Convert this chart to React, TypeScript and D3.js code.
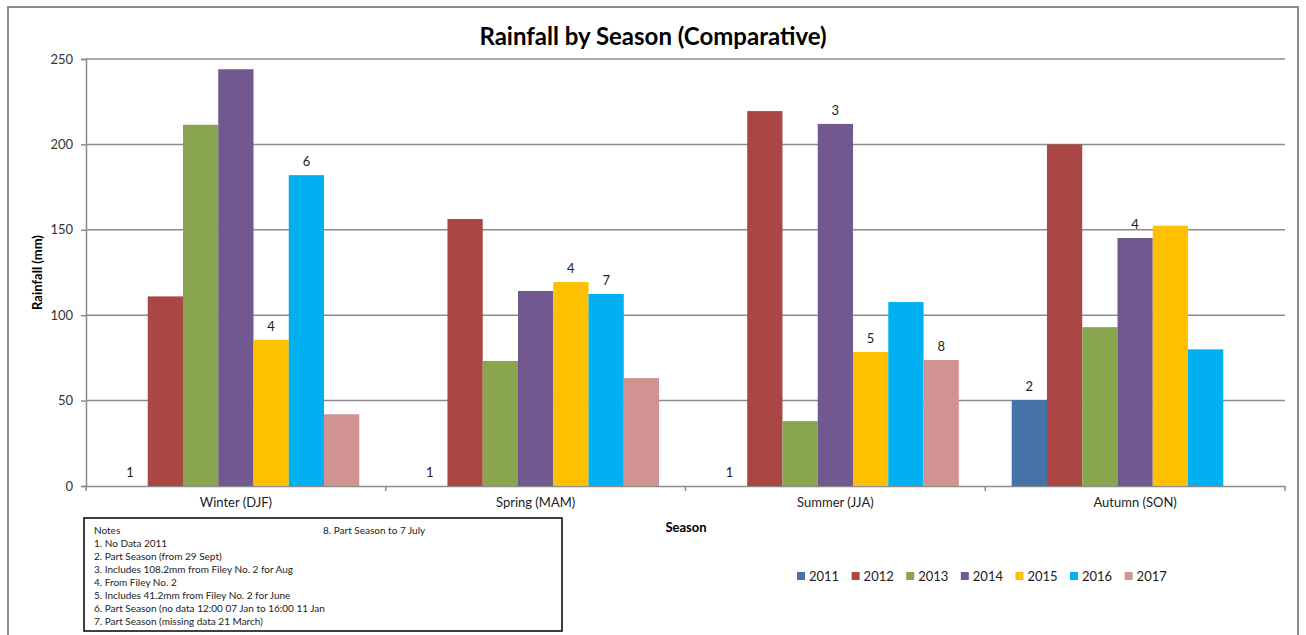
import { useEffect, useRef } from "react";
import * as d3 from "d3";

// seasons and years as in the sheet
const seasons = ["Winter (DJF)", "Spring (MAM)", "Summer (JJA)", "Autumn (SON)"];
const years = ["2011", "2012", "2013", "2014", "2015", "2016", "2017"];
const colors = ["#4572a7", "#aa4643", "#89a54e", "#71588f", "#ffc000", "#00b0f0", "#d09392"];

// rainfall (mm) per year, one value per season (null = no bar)
const y2011 = [null, null, null, 50.3];
const y2012 = [111, 156.3, 219.5, 200];
const y2013 = [211.5, 73.2, 38, 93];
const y2014 = [244, 114.2, 212, 145.2];
const y2015 = [85.5, 119.4, 78.5, 152.4];
const y2016 = [182, 112.4, 107.7, 80];
const y2017 = [42, 63.2, 73.8, null];
const series = [y2011, y2012, y2013, y2014, y2015, y2016, y2017];

// note numbers shown above bars: [season, year index, note]
const noteLabels: [number, number, string][] = [
  [0, 0, "1"], [0, 4, "4"], [0, 5, "6"],
  [1, 0, "1"], [1, 4, "4"], [1, 5, "7"],
  [2, 0, "1"], [2, 3, "3"], [2, 4, "5"], [2, 6, "8"],
  [3, 0, "2"], [3, 3, "4"],
];

const yTicks = [0, 50, 100, 150, 200, 250];

const notes = [
  "Notes",
  "1. No Data 2011",
  "2. Part Season (from 29 Sept)",
  "3. Includes 108.2mm from Filey No. 2 for Aug",
  "4. From Filey No. 2",
  "5. Includes 41.2mm from Filey No. 2 for June",
  "6. Part Season (no data 12:00  07 Jan to 16:00  11 Jan",
  "7. Part Season (missing data 21 March)",
];
const notes2 = ["8. Part Season to 7 July"];

export default function App() {
  const ref = useRef<SVGSVGElement | null>(null);

  useEffect(() => {
    if (!ref.current) return;
    const width = 1306;
    const height = 635;
    const margin = { top: 59, right: 21, bottom: 149, left: 86 };
    const font = "Lato, 'Open Sans', sans-serif";
    const grid = "#8c8c8c";

    const svg = d3.select(ref.current)
      .attr("width", width)
      .attr("height", height)
      .style("font-family", font);
    svg.selectAll("*").remove();

    svg.append("rect").attr("width", width).attr("height", height).attr("fill", "white");

    // outer chart border
    svg.append("path")
      .attr("d", `M8,${height + 5}V7H1298V${height + 5}`)
      .attr("fill", "none")
      .attr("stroke", "#8c8c8c")
      .attr("stroke-width", 2);

    /* ---------------- SCALES ---------------- */
    const x0 = d3.scaleBand()
      .domain(seasons)
      .range([margin.left, width - margin.right]);

    const x1 = d3.scaleBand()
      .domain(years)
      .range([0, x0.bandwidth()])
      .paddingInner(0)
      .paddingOuter(0.75);

    const y = d3.scaleLinear()
      .domain([0, 250])
      .range([height - margin.bottom, margin.top]);

    /* ---------------- GRID + AXES ---------------- */
    const gy = svg.append("g")
      .attr("transform", `translate(${margin.left},0)`)
      .call(d3.axisLeft(y).tickValues(yTicks).tickSize(5).tickPadding(8));
    gy.select(".domain").attr("stroke", grid).attr("stroke-width", 1.5);
    gy.selectAll(".tick line").attr("stroke", grid).attr("stroke-width", 1.5);
    gy.selectAll(".tick text")
      .attr("fill", "#333")
      .style("font-size", "13px")
      .style("font-family", font);

    svg.append("g")
      .selectAll("line")
      .data(yTicks.filter(d => d > 0))
      .join("line")
      .attr("x1", margin.left)
      .attr("x2", width - margin.right)
      .attr("y1", d => y(d))
      .attr("y2", d => y(d))
      .attr("stroke", grid)
      .attr("stroke-width", 1.5);

    const gx = svg.append("g")
      .attr("transform", `translate(0,${height - margin.bottom})`)
      .call(d3.axisBottom(x0).tickSize(0).tickPadding(12));
    gx.select(".domain").attr("stroke", grid).attr("stroke-width", 1.5);
    gx.selectAll(".tick text")
      .attr("fill", "#222")
      .style("font-size", "13px")
      .style("font-family", font);

    // category boundary ticks
    const bounds = [...seasons.map(s => x0(s)!), x0(seasons[3])! + x0.bandwidth()];
    svg.append("g")
      .selectAll("line")
      .data(bounds)
      .join("line")
      .attr("x1", d => d)
      .attr("x2", d => d)
      .attr("y1", y(0))
      .attr("y2", y(0) + 5)
      .attr("stroke", grid)
      .attr("stroke-width", 1.5);

    /* ---------------- BARS ---------------- */
    const barData: { s: number; i: number; v: number }[] = [];
    series.forEach((vals, i) => vals.forEach((v, s) => {
      if (v !== null) barData.push({ s, i, v });
    }));

    svg.append("g")
      .selectAll("rect")
      .data(barData)
      .join("rect")
      .attr("x", d => x0(seasons[d.s])! + x1(years[d.i])!)
      .attr("y", d => y(d.v))
      .attr("width", x1.bandwidth())
      .attr("height", d => y(0) - y(d.v))
      .attr("fill", d => colors[d.i]);

    /* ---------------- NOTE LABELS ---------------- */
    svg.append("g")
      .selectAll("text")
      .data(noteLabels)
      .join("text")
      .attr("x", d => x0(seasons[d[0]])! + x1(years[d[1]])! + x1.bandwidth() / 2)
      .attr("y", d => y(series[d[1]][d[0]] ?? 0) - 9)
      .attr("text-anchor", "middle")
      .attr("fill", "#222")
      .style("font-size", "13px")
      .text(d => d[2]);

    /* ---------------- TITLES ---------------- */
    svg.append("text")
      .attr("x", 653)
      .attr("y", 45)
      .attr("text-anchor", "middle")
      .attr("font-weight", "bold")
      .attr("fill", "#000")
      .style("font-size", "24px")
      .text("Rainfall by Season (Comparative)");

    svg.append("text")
      .attr("transform", `translate(42,${(y(0) + y(250)) / 2}) rotate(-90)`)
      .attr("text-anchor", "middle")
      .attr("font-weight", "bold")
      .attr("fill", "#000")
      .style("font-size", "13px")
      .text("Rainfall (mm)");

    svg.append("text")
      .attr("x", 686)
      .attr("y", 532)
      .attr("text-anchor", "middle")
      .attr("font-weight", "bold")
      .attr("fill", "#000")
      .style("font-size", "13px")
      .text("Season");

    /* ---------------- NOTES BOX ---------------- */
    svg.append("rect")
      .attr("x", 84)
      .attr("y", 518)
      .attr("width", 478)
      .attr("height", 113)
      .attr("fill", "white")
      .attr("stroke", "#000")
      .attr("stroke-width", 1.5);

    svg.append("g")
      .selectAll("text")
      .data(notes)
      .join("text")
      .attr("x", 94)
      .attr("y", (_, i) => 534 + i * 13)
      .attr("fill", "#222")
      .style("font-size", "10px")
      .text(d => d);

    svg.append("g")
      .selectAll("text")
      .data(notes2)
      .join("text")
      .attr("x", 323)
      .attr("y", 534)
      .attr("fill", "#222")
      .style("font-size", "10px")
      .text(d => d);

    /* ---------------- LEGEND ---------------- */
    const legend = svg.append("g").attr("transform", "translate(797,576)");
    const item = legend.selectAll("g")
      .data(years)
      .join("g")
      .attr("transform", (_, i) => `translate(${i * 54.6},0)`);
    item.append("rect")
      .attr("x", 0)
      .attr("y", -4)
      .attr("width", 8)
      .attr("height", 8)
      .attr("fill", (_, i) => colors[i]);
    item.append("text")
      .attr("x", 12)
      .attr("y", 5)
      .attr("fill", "#222")
      .style("font-size", "13px")
      .text(d => d);
  }, []);

  return <svg ref={ref} style={{ position: "absolute", left: 0, top: 0, display: "block" }} />;
}
